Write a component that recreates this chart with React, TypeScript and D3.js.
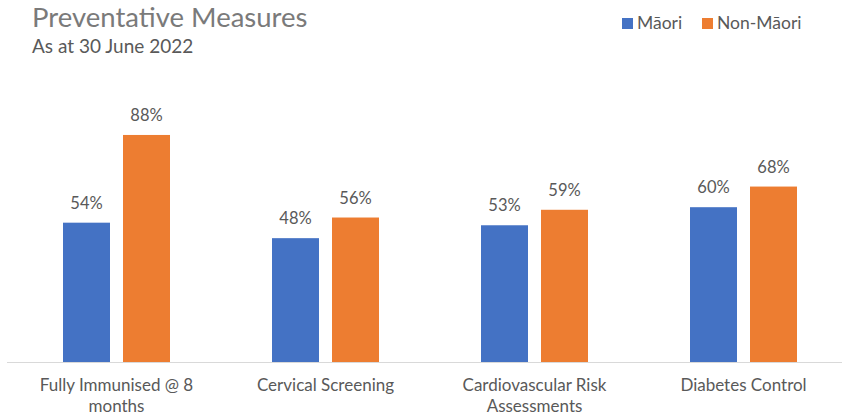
import React from "react";
import * as d3 from "d3";

const categories = [
  ["Fully Immunised @ 8", "months"],
  ["Cervical Screening"],
  ["Cardiovascular Risk", "Assessments"],
  ["Diabetes Control"],
];
const seriesNames = ["Māori", "Non-Māori"];
const maori = [54, 48, 53, 60];
const nonMaori = [88, 56, 59, 68];
const colors = ["#4472C4", "#ED7D31"];

const W = 842;
const H = 414;
const FONT = "Lato, 'Open Sans', sans-serif";

export default function App() {
  const x = d3.scaleBand<number>().domain([0, 1, 2, 3]).range([12, 848]).paddingInner(0).paddingOuter(0);
  const y = d3.scaleLinear().domain([0, 100]).range([362, 104]);
  const barW = 47;
  const gap = 13;
  const series = [maori, nonMaori];
  return (
    <svg width={W} height={H} style={{ position: "absolute", left: 0, top: 0, background: "#fff" }}>
      <text x={32} y={27} fontFamily={FONT} fontSize={27.5} fill="#7a7a7a">Preventative Measures</text>
      <text x={32} y={53} fontFamily={FONT} fontSize={19} fill="#595959">As at 30 June 2022</text>
      {seriesNames.map((n, i) => {
        const lx = i === 0 ? 622 : 702;
        return (
          <g key={n}>
            <rect x={lx} y={18} width={11} height={11} fill={colors[i]} />
            <text x={lx + 15} y={29} fontFamily={FONT} fontSize={17.5} fill="#595959">{n}</text>
          </g>
        );
      })}
      <line x1={7} x2={842} y1={362.5} y2={362.5} stroke="#D9D9D9" strokeWidth={1} />
      {categories.map((lines, ci) => {
        const cx = (x(ci) as number) + x.bandwidth() / 2;
        return (
          <g key={ci}>
            {series.map((s, si) => {
              const bx = si === 0 ? cx - gap / 2 - barW : cx + gap / 2;
              const top = y(s[ci]);
              return (
                <g key={si}>
                  <rect x={bx} y={top} width={barW} height={y(0) - top} fill={colors[si]} />
                  <text x={bx + barW / 2} y={top - 14} textAnchor="middle" fontFamily={FONT} fontSize={16.5} fill="#595959">{s[ci]}%</text>
                </g>
              );
            })}
            {lines.map((l, li) => (
              <text key={li} x={cx} y={391 + li * 21} textAnchor="middle" fontFamily={FONT} fontSize={17} fill="#595959">{l}</text>
            ))}
          </g>
        );
      })}
    </svg>
  );
}
